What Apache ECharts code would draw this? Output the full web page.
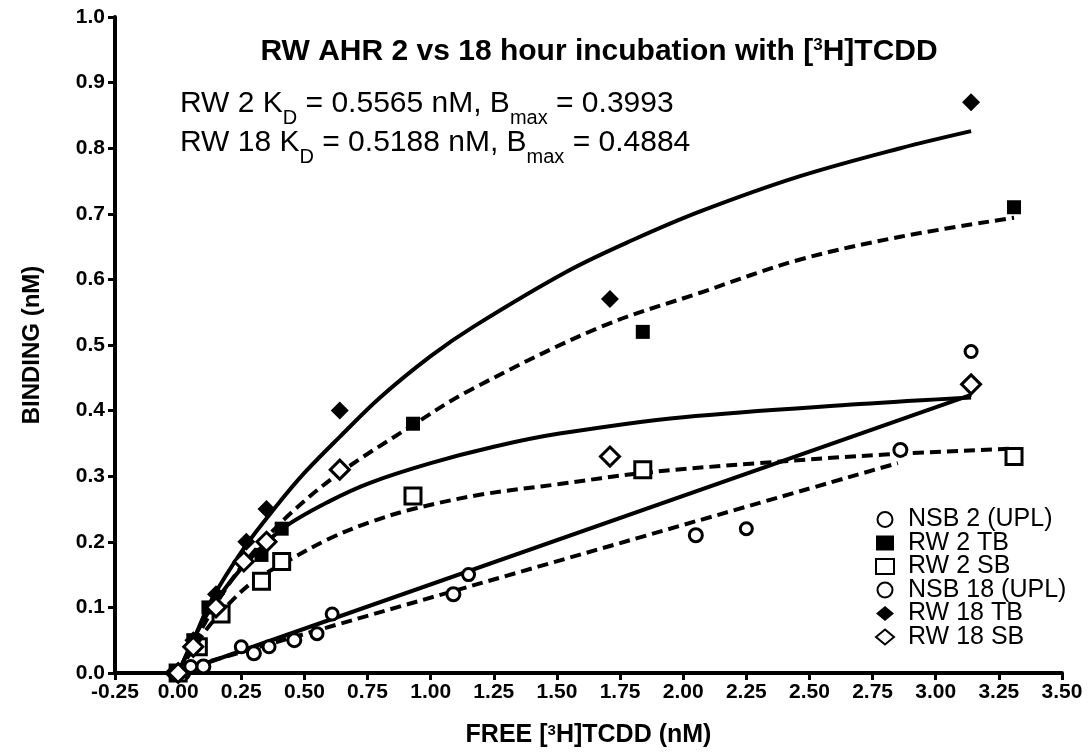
<!DOCTYPE html>
<html>
<head>
<meta charset="utf-8">
<script src="https://cdn.jsdelivr.net/npm/echarts@6/dist/echarts.min.js"></script>
<style>
  html, body { margin: 0; padding: 0; background: #fff; }
  #chart { width: 1091px; height: 754px; }
</style>
</head>
<body>
<div id="chart"></div>
<script>
// measured points, [free nM, bound nM]
const nsb2 = [[0.02, 0.0], [0.10, 0.01], [0.30, 0.03], [0.46, 0.05], [1.09, 0.12], [2.05, 0.21], [2.86, 0.34]];
const nsb18 = [[0.05, 0.01], [0.25, 0.04], [0.36, 0.04], [0.55, 0.06], [0.61, 0.09], [1.15, 0.15], [2.25, 0.22], [3.14, 0.49]];
const rw2TB = [[0.0, 0.0], [0.06, 0.05], [0.12, 0.10], [0.33, 0.18], [0.41, 0.22], [0.93, 0.38], [1.84, 0.52], [3.31, 0.71]];
const rw2SB = [[0.0, 0.0], [0.08, 0.04], [0.17, 0.09], [0.33, 0.14], [0.41, 0.17], [0.93, 0.27], [1.84, 0.31], [3.31, 0.33]];
const rw18TB = [[-0.02, 0.0], [0.06, 0.05], [0.15, 0.12], [0.27, 0.20], [0.35, 0.25], [0.64, 0.40], [1.71, 0.57], [3.14, 0.87]];
const rw18SB = [[0.0, 0.0], [0.06, 0.04], [0.15, 0.10], [0.26, 0.17], [0.35, 0.20], [0.64, 0.31], [1.71, 0.33], [3.14, 0.44]];

// fitted curves
const fitRw18TB = [[0, 0], [0.06, 0.05], [0.13, 0.11], [0.26, 0.19], [0.39, 0.255], [0.5, 0.305], [0.64, 0.36], [0.8, 0.42], [1.0, 0.483], [1.17, 0.528], [1.54, 0.612], [1.8, 0.66], [2.07, 0.704], [2.46, 0.757], [2.86, 0.8], [3.14, 0.826]];
const fitRw2TB = [[0, 0], [0.1, 0.072], [0.2, 0.135], [0.3, 0.185], [0.45, 0.245], [0.64, 0.305], [0.93, 0.378], [1.15, 0.43], [1.67, 0.527], [2.07, 0.58], [2.46, 0.63], [2.86, 0.665], [3.31, 0.694]];
const fitRw18SB = [[0, 0], [0.1, 0.08], [0.2, 0.136], [0.3, 0.18], [0.42, 0.222], [0.6, 0.262], [0.76, 0.29], [1.0, 0.32], [1.25, 0.345], [1.51, 0.365], [2.0, 0.39], [2.7, 0.41], [3.14, 0.42]];
const fitRw2SB = [[0, 0], [0.1, 0.06], [0.2, 0.105], [0.3, 0.14], [0.44, 0.172], [0.6, 0.205], [0.76, 0.23], [0.93, 0.25], [1.2, 0.272], [1.51, 0.288], [1.84, 0.305], [2.3, 0.32], [2.8, 0.333], [3.31, 0.342]];
const fitNsb18 = [[0, 0], [3.14, 0.424]];
const fitNsb2 = [[0, 0.004], [2.85, 0.32]];

const xTicks = [-0.25, 3.5, 0.25];
const yTicks = [0, 1, 0.1];

const FONT = 'Liberation Sans';

function pts(name, data, symbol, size, filled) {
  return {
    name: name,
    type: 'scatter',
    data: data,
    symbol: symbol,
    symbolSize: size,
    z: 5,
    itemStyle: filled
      ? { color: '#000', opacity: 1 }
      : { color: '#fff', borderColor: '#000', borderWidth: 3, opacity: 1 }
  };
}

function fit(data, dashed) {
  return {
    type: 'line',
    data: data,
    showSymbol: false,
    smooth: 0.35,
    silent: true,
    z: 3,
    lineStyle: { color: '#000', width: 4, type: dashed ? [11, 6] : 'solid' }
  };
}

const chart = echarts.init(document.getElementById('chart'));
chart.setOption({
  backgroundColor: '#fff',
  animation: false,
  textStyle: { fontFamily: FONT },
  grid: { left: 115, right: 29, top: 17, bottom: 81 },
  title: {
    text: '{t|RW AHR 2 vs 18 hour incubation with [}{s|3}{t|H]TCDD}',
    left: 594,
    top: 32,
    textAlign: 'center',
    textStyle: {
      rich: {
        t: { fontFamily: FONT, fontWeight: 'bold', fontSize: 30, color: '#000' },
        s: { fontFamily: FONT, fontWeight: 'bold', fontSize: 17, color: '#000', verticalAlign: 'top', lineHeight: 17 }
      }
    }
  },
  graphic: [
    {
      type: 'text',
      left: 180,
      top: 89,
      style: {
        text: '{m|RW 2 K}{d|D}{m| = 0.5565 nM, B}{d|max}{m| = 0.3993}\n{m|RW 18 K}{d|D}{m| = 0.5188 nM, B}{d|max}{m| = 0.4884}',
        rich: {
          m: { fontFamily: FONT, fontSize: 30, fill: '#000', lineHeight: 39, verticalAlign: 'top' },
          d: { fontFamily: FONT, fontSize: 20, fill: '#000', lineHeight: 39, verticalAlign: 'bottom' }
        }
      }
    }
  ],
  legend: {
    left: 870,
    top: 502,
    orient: 'vertical',
    itemWidth: 18,
    itemHeight: 15,
    itemGap: -1.5,
    textStyle: { fontFamily: FONT, fontSize: 25, lineHeight: 23, color: '#000', padding: [0, 0, 0, 9] },
    data: ['NSB 2 (UPL)', 'RW 2 TB', 'RW 2 SB', 'NSB 18 (UPL)', 'RW 18 TB', 'RW 18 SB']
  },
  xAxis: {
    type: 'value',
    min: xTicks[0],
    max: xTicks[1],
    interval: xTicks[2],
    name: '{n|FREE [}{s|3}{n|H]TCDD (nM)}',
    nameLocation: 'middle',
    nameGap: 50,
    nameTextStyle: {
      rich: {
        n: { fontFamily: FONT, fontWeight: 'bold', fontSize: 25, color: '#000' },
        s: { fontFamily: FONT, fontWeight: 'bold', fontSize: 15, color: '#000', verticalAlign: 'top', lineHeight: 14 }
      }
    },
    splitLine: { show: false },
    axisLine: { lineStyle: { color: '#000', width: 4 } },
    axisTick: { length: 7, lineStyle: { color: '#000', width: 3 } },
    axisLabel: {
      margin: 9,
      fontFamily: FONT,
      fontWeight: 'bold',
      fontSize: 21,
      color: '#000',
      formatter: v => v.toFixed(2)
    }
  },
  yAxis: {
    type: 'value',
    min: yTicks[0],
    max: yTicks[1],
    interval: yTicks[2],
    name: 'BINDING (nM)',
    nameLocation: 'middle',
    nameGap: 71,
    nameTextStyle: { fontFamily: FONT, fontWeight: 'bold', fontSize: 24, color: '#000' },
    splitLine: { show: false },
    axisLine: { show: true, onZero: false, lineStyle: { color: '#000', width: 4 } },
    axisTick: { show: true, length: 7, lineStyle: { color: '#000', width: 3 } },
    axisLabel: {
      margin: 10,
      fontFamily: FONT,
      fontWeight: 'bold',
      fontSize: 21,
      color: '#000',
      formatter: v => v.toFixed(1)
    }
  },
  series: [
    fit(fitRw18TB, false),
    fit(fitRw2TB, true),
    fit(fitRw18SB, false),
    fit(fitRw2SB, true),
    fit(fitNsb18, false),
    fit(fitNsb2, true),
    pts('NSB 2 (UPL)', nsb2, 'circle', 13, false),
    pts('RW 2 TB', rw2TB, 'rect', 14, true),
    pts('RW 2 SB', rw2SB, 'rect', 16, false),
    pts('NSB 18 (UPL)', nsb18, 'circle', 12, false),
    pts('RW 18 TB', rw18TB, 'diamond', 18, true),
    pts('RW 18 SB', rw18SB, 'diamond', 19, false)
  ]
});
</script>
</body>
</html>
